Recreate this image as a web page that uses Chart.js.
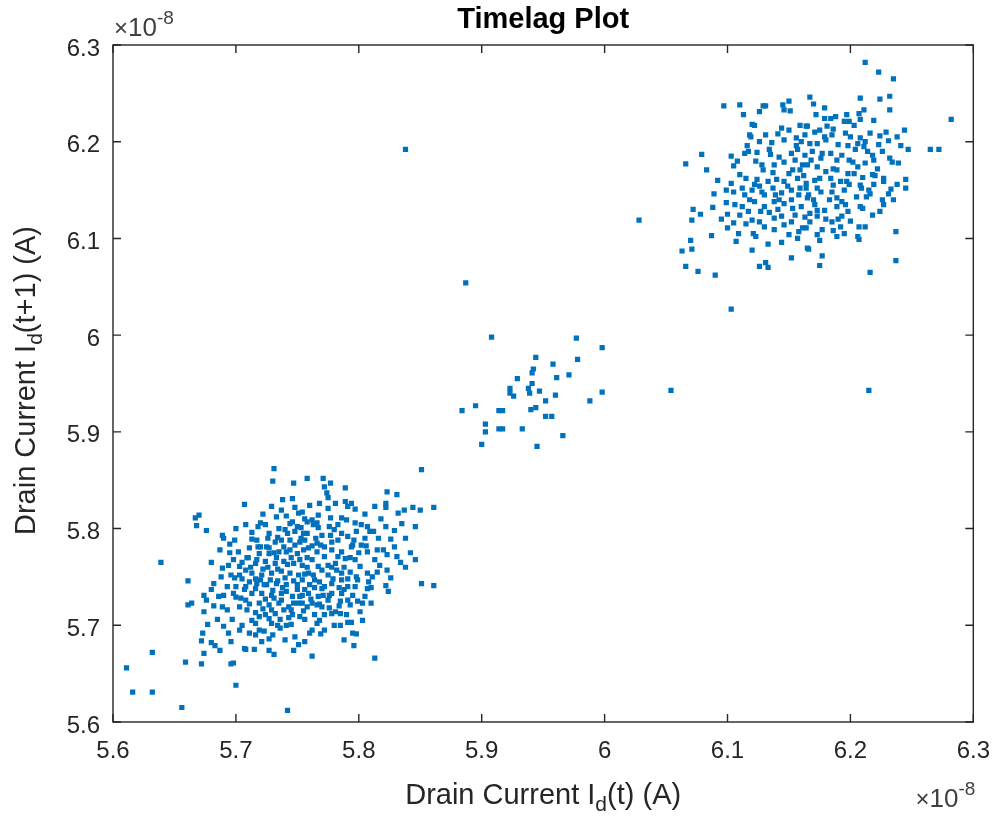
<!DOCTYPE html>
<html>
<head>
<meta charset="utf-8">
<script src="https://cdn.jsdelivr.net/npm/chart.js@4.4.0/dist/chart.umd.min.js"></script>
<style>
html,body{margin:0;padding:0;background:#ffffff;}
#wrap{width:1005px;height:818px;position:relative;}
</style>
</head>
<body>
<div id="wrap"><canvas id="c" width="1005" height="818"></canvas></div>
<script>
// Values in units of 1e-8 A : [Id(t), Id(t+1)]
const chartTitle = 'Timelag Plot';
const xTicks = [5.6, 5.7, 5.8, 5.9, 6.0, 6.1, 6.2, 6.3];
const yTicks = [5.6, 5.7, 5.8, 5.9, 6.0, 6.1, 6.2, 6.3];

const lowerCluster = [
[5.731,5.862],[5.730,5.849],[5.747,5.847],[5.746,5.831],[5.707,5.825],[5.729,5.823],[5.737,5.819],[5.670,5.814],
[5.667,5.811],[5.668,5.803],[5.676,5.798],[5.708,5.804],[5.718,5.802],[5.713,5.796],[5.724,5.804],[5.689,5.793],
[5.690,5.790],[5.699,5.788],[5.687,5.778],[5.695,5.775],[5.711,5.780],[5.709,5.770],[5.639,5.765],[5.680,5.765],
[5.689,5.759],[5.698,5.768],[5.703,5.761],[5.661,5.746],[5.682,5.743],[5.680,5.737],[5.674,5.731],[5.676,5.726],
[5.661,5.721],[5.664,5.723],[5.674,5.714],[5.689,5.719],[5.693,5.716],[5.700,5.740],[5.700,5.729],[5.708,5.740],
[5.703,5.719],[5.685,5.706],[5.677,5.701],[5.673,5.692],[5.672,5.684],[5.680,5.682],[5.683,5.679],[5.687,5.674],
[5.674,5.671],[5.659,5.662],[5.672,5.660],[5.696,5.660],[5.698,5.661],[5.690,5.699],[5.694,5.692],[5.696,5.683],
[5.703,5.695],[5.707,5.676],[5.708,5.675],[5.715,5.675],[5.711,5.692],[5.719,5.695],[5.721,5.683],[5.727,5.674],
[5.731,5.670],[5.723,5.694],[5.729,5.702],[5.734,5.700],[5.741,5.700],[5.747,5.674],[5.748,5.688],[5.700,5.638],
[5.656,5.615],[5.742,5.612],[5.719,5.709],[5.713,5.705],[5.724,5.711],[5.851,5.861],[5.758,5.852],[5.771,5.852],
[5.777,5.847],[5.772,5.843],[5.774,5.837],[5.775,5.832],[5.789,5.842],[5.823,5.838],[5.831,5.835],[5.789,5.828],
[5.794,5.826],[5.791,5.823],[5.813,5.823],[5.822,5.826],[5.822,5.822],[5.832,5.816],[5.837,5.819],[5.844,5.822],
[5.850,5.819],[5.861,5.822],[5.760,5.824],[5.775,5.821],[5.754,5.817],[5.846,5.802],[5.822,5.802],[5.829,5.798],
[5.826,5.789],[5.807,5.802],[5.802,5.804],[5.809,5.797],[5.820,5.778],[5.823,5.773],[5.842,5.775],[5.846,5.768],
[5.834,5.765],[5.826,5.749],[5.822,5.741],[5.824,5.735],[5.851,5.743],[5.861,5.741],[5.810,5.739],[5.810,5.723],
[5.803,5.723],[5.801,5.714],[5.803,5.705],[5.791,5.703],[5.794,5.703],[5.795,5.692],[5.798,5.691],[5.796,5.679],
[5.813,5.666],[5.762,5.668],[5.772,5.695],[5.766,5.702],[5.760,5.692],[5.756,5.683],[5.756,5.706],[5.764,5.711],
[5.793,5.721],[5.785,5.712],[5.781,5.714],[5.778,5.712],[5.772,5.711],[5.786,5.733],[5.791,5.740],[5.795,5.731],
[5.805,5.730],[5.807,5.738],[5.811,5.750],[5.807,5.754],[5.798,5.750],[5.786,5.754],[5.786,5.747],[5.778,5.743],
[5.772,5.740],[5.813,5.768],[5.817,5.762],[5.807,5.776],[5.802,5.783],[5.794,5.781],[5.797,5.768],[5.801,5.761],
[5.789,5.769],[5.783,5.771],[5.778,5.778],[5.783,5.788],[5.791,5.792],[5.798,5.797],[5.786,5.811],[5.790,5.809],
[5.777,5.811],[5.767,5.814],[5.762,5.809],[5.758,5.807],[5.763,5.804],[5.770,5.793],[5.766,5.785],[5.756,5.788],
[5.755,5.778],[5.762,5.768],[5.772,5.771],[5.767,5.761],[5.759,5.754],[5.754,5.747],[5.764,5.747],[5.759,5.733],
[5.767,5.730],[5.775,5.726],[5.754,5.723],[5.762,5.723],[5.770,5.719],[5.778,5.786],[5.780,5.799],[5.805,5.790],
[5.733,5.812],[5.746,5.807],[5.751,5.816],[5.740,5.799],[5.748,5.797],[5.727,5.795],[5.732,5.786],[5.744,5.788],
[5.752,5.786],[5.719,5.774],[5.727,5.774],[5.735,5.776],[5.741,5.776],[5.750,5.774],[5.716,5.764],[5.724,5.766],
[5.732,5.764],[5.739,5.766],[5.747,5.764],[5.754,5.762],[5.713,5.754],[5.721,5.752],[5.729,5.754],[5.737,5.756],
[5.744,5.754],[5.751,5.752],[5.717,5.743],[5.725,5.742],[5.733,5.743],[5.741,5.742],[5.750,5.742],[5.713,5.733],
[5.721,5.733],[5.729,5.731],[5.737,5.733],[5.746,5.730],[5.754,5.731],[5.719,5.723],[5.727,5.721],[5.735,5.723],
[5.743,5.719],[5.751,5.723],[5.732,5.712],[5.746,5.711],[5.752,5.709],[5.708,5.726],[5.709,5.716],
[5.748,5.783],[5.753,5.801],[5.750,5.737],[5.743,5.708],[5.736,5.697],[5.740,5.685],[5.759,5.780],[5.769,5.783],
[5.775,5.762],[5.782,5.757],[5.788,5.737],[5.766,5.721],[5.780,5.700],[5.788,5.685],[5.751,5.680],[5.739,5.716],
[5.729,5.716],[5.723,5.742],[5.731,5.728],[5.717,5.788],[5.725,5.781],[5.737,5.788],[5.720,5.806],[5.741,5.813],
[5.755,5.795],[5.767,5.801],[5.777,5.793],[5.783,5.804],[5.795,5.783],[5.800,5.775],[5.791,5.726],[5.799,5.747],
[5.756,5.737],[5.764,5.739],[5.771,5.731],[5.747,5.723],[5.703,5.752],[5.696,5.752],[5.707,5.737],[5.690,5.731],
[5.611,5.656],[5.632,5.672],[5.616,5.631],[5.632,5.631],
[5.705,5.748],[5.712,5.760],[5.716,5.748],[5.722,5.758],[5.728,5.747],[5.734,5.758],[5.740,5.749],[5.745,5.770],
[5.752,5.768],[5.758,5.760],[5.763,5.752],[5.768,5.745],[5.775,5.752],[5.781,5.764],[5.788,5.760],[5.793,5.755],
[5.797,5.740],[5.785,5.725],[5.778,5.733],[5.770,5.738],[5.760,5.742],[5.747,5.746],[5.738,5.739],[5.730,5.736],
[5.724,5.727],[5.716,5.738],[5.711,5.745],[5.727,5.780],[5.734,5.791],[5.742,5.795],[5.750,5.802],[5.758,5.795],
[5.765,5.790],[5.772,5.781],[5.778,5.760],[5.786,5.776],[5.793,5.770],[5.761,5.727],[5.755,5.715],[5.745,5.701],
[5.730,5.690],[5.716,5.702],[5.722,5.717],[5.737,5.726],[5.758,5.770],[5.766,5.776],[5.744,5.778],[5.733,5.770],
[5.720,5.781],[5.713,5.789],
[5.710,5.770],[5.718,5.781],[5.726,5.790],[5.735,5.800],[5.744,5.805],[5.756,5.810],[5.766,5.806],[5.776,5.802],
[5.786,5.795],[5.796,5.788],[5.806,5.782],[5.815,5.778],[5.829,5.781],[5.838,5.790],[5.835,5.805],[5.818,5.810],
[5.805,5.815],[5.797,5.820],[5.781,5.826],[5.768,5.826],[5.748,5.822],[5.738,5.830],[5.722,5.815],[5.700,5.800],
[5.695,5.784],[5.702,5.776],[5.705,5.765],[5.694,5.762],[5.688,5.750],[5.693,5.740],[5.698,5.733],[5.704,5.728],
[5.711,5.722],[5.716,5.713],[5.727,5.707],[5.736,5.706],[5.745,5.716],[5.758,5.719],[5.768,5.705],[5.776,5.718],
[5.784,5.720],[5.790,5.711],[5.799,5.725],[5.808,5.745],[5.815,5.755],[5.823,5.757],[5.831,5.771],[5.838,5.760],
[5.816,5.790],[5.812,5.797],[5.797,5.806],[5.753,5.790],[5.762,5.782],[5.739,5.781],[5.731,5.775],[5.717,5.768],
[5.726,5.760],[5.742,5.763],[5.756,5.753],[5.770,5.757],[5.779,5.748],[5.791,5.748],[5.784,5.739],[5.776,5.731],
[5.768,5.722],[5.752,5.730],[5.741,5.735],[5.734,5.746],[5.720,5.747],[5.708,5.757],[5.699,5.749],[5.686,5.730],
[5.682,5.720],[5.697,5.706],[5.705,5.700],[5.716,5.690],[5.727,5.686],[5.762,5.695],[5.785,5.700],[5.769,5.691]
];

const middleCluster = [
[5.838,6.192],[5.887,6.054],[5.908,5.998],[5.977,5.997],[5.998,5.987],[5.944,5.977],[5.978,5.975],[5.958,5.970],
[5.942,5.965],[5.941,5.961],[5.961,5.956],[5.971,5.959],[5.929,5.955],[5.941,5.950],[5.923,5.945],[5.938,5.945],
[5.923,5.940],[5.926,5.937],[5.939,5.940],[5.947,5.942],[5.960,5.938],[5.998,5.941],[5.988,5.932],[5.952,5.932],
[5.895,5.927],[5.884,5.922],[5.914,5.922],[5.917,5.922],[5.940,5.923],[5.944,5.925],[5.952,5.916],[5.957,5.916],
[5.903,5.908],[5.903,5.900],[5.914,5.903],[5.917,5.903],[5.933,5.903],[5.966,5.896],[5.900,5.887],[5.945,5.885],
[6.054,5.943],[6.215,5.943],[6.028,6.119]
];

const upperCluster = [
[6.066,6.177],[6.072,6.130],[6.071,6.119],[6.070,6.098],[6.071,6.089],[6.063,6.087],[6.066,6.071],
[6.097,6.237],[6.110,6.238],[6.129,6.237],[6.131,6.237],[6.145,6.238],[6.150,6.242],[6.146,6.233],[6.151,6.232],
[6.113,6.228],[6.126,6.231],[6.167,6.246],[6.120,6.218],[6.122,6.217],[6.118,6.207],[6.119,6.205],[6.131,6.207],
[6.141,6.208],[6.144,6.214],[6.150,6.212],[6.159,6.217],[6.164,6.216],[6.156,6.204],[6.163,6.207],[6.079,6.187],
[6.083,6.171],[6.103,6.185],[6.105,6.175],[6.114,6.188],[6.117,6.190],[6.124,6.189],[6.134,6.192],[6.135,6.187],
[6.142,6.184],[6.152,6.188],[6.157,6.192],[6.163,6.186],[6.128,6.176],[6.129,6.171],[6.138,6.176],[6.146,6.179],
[6.153,6.171],[6.161,6.176],[6.110,6.166],[6.115,6.162],[6.124,6.161],[6.133,6.159],[6.140,6.161],[6.146,6.159],
[6.157,6.162],[6.164,6.157],[6.103,6.157],[6.099,6.150],[6.105,6.148],[6.112,6.152],[6.120,6.150],[6.128,6.148],
[6.137,6.152],[6.144,6.147],[6.152,6.150],[6.159,6.152],[6.166,6.145],[6.089,6.146],[6.099,6.137],[6.088,6.132],
[6.078,6.125],[6.100,6.125],[6.112,6.133],[6.117,6.128],[6.122,6.138],[6.130,6.133],[6.138,6.138],[6.146,6.136],
[6.153,6.131],[6.160,6.133],[6.120,6.119],[6.126,6.117],[6.130,6.112],[6.138,6.121],[6.144,6.123],[6.152,6.117],
[6.161,6.111],[6.105,6.116],[6.100,6.111],[6.087,6.103],[6.107,6.097],[6.120,6.088],[6.150,6.104],[6.157,6.100],
[6.165,6.090],[6.152,6.080],[6.131,6.075],[6.126,6.071],[6.133,6.070],[6.076,6.066],[6.090,6.062],[6.103,6.027],
[6.212,6.282],[6.223,6.272],[6.235,6.265],[6.208,6.245],[6.224,6.244],[6.232,6.247],[6.170,6.239],[6.179,6.235],
[6.211,6.233],[6.207,6.229],[6.232,6.233],[6.172,6.228],[6.179,6.224],[6.184,6.224],[6.188,6.226],[6.197,6.228],
[6.195,6.221],[6.199,6.221],[6.208,6.223],[6.282,6.223],[6.165,6.216],[6.175,6.212],[6.181,6.216],[6.185,6.207],
[6.179,6.205],[6.196,6.209],[6.216,6.209],[6.224,6.206],[6.229,6.210],[6.238,6.205],[6.244,6.212],[6.208,6.204],
[6.167,6.198],[6.173,6.198],[6.198,6.196],[6.206,6.198],[6.204,6.192],[6.211,6.195],[6.214,6.190],[6.223,6.197],
[6.231,6.201],[6.241,6.196],[6.247,6.192],[6.265,6.192],[6.272,6.192],[6.169,6.190],[6.177,6.188],[6.184,6.188],
[6.189,6.181],[6.218,6.186],[6.212,6.178],[6.234,6.179],[6.239,6.178],[6.165,6.176],[6.173,6.174],[6.180,6.169],
[6.189,6.171],[6.198,6.167],[6.206,6.174],[6.203,6.167],[6.184,6.162],[6.192,6.159],[6.197,6.159],[6.218,6.166],
[6.220,6.165],[6.227,6.162],[6.227,6.159],[6.238,6.156],[6.245,6.161],[6.245,6.152],[6.164,6.152],[6.173,6.152],
[6.176,6.148],[6.208,6.155],[6.209,6.152],[6.219,6.156],[6.233,6.151],[6.231,6.146],[6.165,6.142],[6.183,6.140],
[6.189,6.142],[6.193,6.138],[6.196,6.135],[6.205,6.143],[6.213,6.143],[6.216,6.146],[6.226,6.140],[6.173,6.129],
[6.167,6.126],[6.189,6.133],[6.208,6.133],[6.210,6.131],[6.173,6.123],[6.185,6.117],[6.193,6.123],[6.177,6.109],
[6.164,6.111],[6.192,6.112],[6.195,6.105],[6.189,6.102],[6.207,6.112],[6.212,6.112],[6.206,6.102],[6.207,6.099],
[6.173,6.104],[6.175,6.098],[6.237,6.107],[6.166,6.089],[6.177,6.082],[6.175,6.072],[6.237,6.077],[6.216,6.065],
[6.168,6.181],[6.175,6.162],[6.155,6.181],[6.159,6.171],[6.137,6.168],[6.146,6.202],[6.170,6.140],[6.179,6.129],
[6.155,6.124],[6.167,6.117],[6.138,6.109],[6.146,6.114],[6.122,6.156],[6.130,6.145],[6.142,6.140],[6.134,6.127],
[6.118,6.140],[6.110,6.124],[6.123,6.102],[6.186,6.155],[6.195,6.150],[6.199,6.181],[6.190,6.197],[6.180,6.202],
[6.218,6.124],[6.227,6.135],[6.235,6.140],[6.219,6.181],[6.203,6.217],[6.219,6.222],
[6.116,6.196],[6.126,6.200],[6.136,6.199],[6.156,6.196],[6.171,6.210],[6.186,6.213],[6.200,6.205],[6.212,6.200],
[6.226,6.190],[6.232,6.183],[6.222,6.172],[6.210,6.163],[6.199,6.156],[6.185,6.148],[6.171,6.160],[6.158,6.145],
[6.149,6.154],[6.139,6.145],[6.126,6.154],[6.114,6.145],[6.106,6.135],[6.115,6.115],[6.127,6.128],[6.141,6.130],
[6.152,6.140],[6.163,6.122],[6.171,6.135],[6.180,6.120],[6.198,6.128],[6.200,6.118],[6.186,6.108],[6.158,6.107],
[6.144,6.096],[6.133,6.094],[6.121,6.105],[6.109,6.105],[6.095,6.120],[6.092,6.160],[6.108,6.180],[6.123,6.180],
[6.150,6.167],[6.162,6.165],[6.176,6.183],[6.193,6.186],[6.202,6.179],[6.186,6.172],[6.215,6.150],[6.224,6.128],
[6.190,6.120],[6.160,6.200]
];

const FONT = '"Liberation Sans", Arial, Helvetica, sans-serif';
const TXT = '#262626';

function toPoints(arr){ return arr.map(p => ({x: p[0], y: p[1]})); }
const allPoints = [].concat(toPoints(lowerCluster), toPoints(middleCluster), toPoints(upperCluster));

function drawRich(ctx, parts, x, y, align){
  let total = 0;
  parts.forEach(p => { ctx.font = (p.weight||'normal') + ' ' + p.size + 'px ' + FONT; p.w = ctx.measureText(p.t).width; total += p.w; });
  let cx = align === 'center' ? x - total/2 : (align === 'right' ? x - total : x);
  ctx.textAlign = 'left'; ctx.textBaseline = 'alphabetic';
  parts.forEach(p => { ctx.font = (p.weight||'normal') + ' ' + p.size + 'px ' + FONT; ctx.fillText(p.t, cx, y + (p.dy||0)); cx += p.w; });
}

const matlabAxes = {
  id: 'matlabAxes',
  afterDatasetsDraw(chart){
    const ctx = chart.ctx, a = chart.chartArea, xs = chart.scales.x, ys = chart.scales.y;
    ctx.save();
    ctx.strokeStyle = TXT; ctx.lineWidth = 1.4;
    ctx.strokeRect(a.left, a.top, a.right - a.left, a.bottom - a.top);
    const tl = 8;
    ctx.beginPath();
    xTicks.forEach(v => { const px = xs.getPixelForValue(v);
      ctx.moveTo(px, a.bottom); ctx.lineTo(px, a.bottom - tl);
      ctx.moveTo(px, a.top); ctx.lineTo(px, a.top + tl); });
    yTicks.forEach(v => { const py = ys.getPixelForValue(v);
      ctx.moveTo(a.left, py); ctx.lineTo(a.left + tl, py);
      ctx.moveTo(a.right, py); ctx.lineTo(a.right - tl, py); });
    ctx.stroke();

    const cxm = (a.left + a.right) / 2, cym = (a.top + a.bottom) / 2;
    ctx.fillStyle = '#000000';
    drawRich(ctx, [{t: chartTitle, size: 29, weight: 'bold'}], cxm, 28, 'center');
    ctx.fillStyle = TXT;
    drawRich(ctx, [{t:'Drain Current I', size:29},{t:'d', size:21, dy:7},{t:'(t) (A)', size:29}], cxm, 804, 'center');
    ctx.save();
    ctx.translate(35, cym - 3);
    ctx.rotate(-Math.PI/2);
    drawRich(ctx, [{t:'Drain Current I', size:29},{t:'d', size:21, dy:7},{t:'(t+1) (A)', size:29}], 0, 0, 'center');
    ctx.restore();
    ctx.fillStyle = '#404040';
    drawRich(ctx, [{t:'\u00D7', size:24},{t:'10', size:26},{t:'-8', size:19, dy:-12}], a.left + 1, 36, 'left');
    drawRich(ctx, [{t:'\u00D7', size:24},{t:'10', size:26},{t:'-8', size:19, dy:-12}], a.right + 2, 807, 'right');
    ctx.restore();
  }
};

const fmt = v => String(Number(Number(v).toFixed(1)));

new Chart(document.getElementById('c'), {
  type: 'scatter',
  data: { datasets: [{
    data: allPoints,
    backgroundColor: '#0072BD',
    borderColor: '#0072BD',
    borderWidth: 0,
    pointRadius: 3.7,
    pointStyle: 'rect'
  }]},
  options: {
    responsive: false,
    animation: false,
    devicePixelRatio: 1,
    layout: { padding: { top: 45, right: 25, left: 0, bottom: 0 } },
    plugins: { legend: { display: false }, tooltip: { enabled: false }, title: { display: false } },
    scales: {
      x: {
        type: 'linear', min: 5.6, max: 6.3,
        grid: { display: false, drawTicks: false },
        border: { display: false },
        afterBuildTicks: s => { s.ticks = xTicks.map(v => ({ value: v })); },
        afterFit: s => { s.height = 96; },
        ticks: { autoSkip: false, maxRotation: 0, padding: 15, color: TXT, font: { family: FONT, size: 24 }, callback: fmt }
      },
      y: {
        type: 'linear', min: 5.6, max: 6.3,
        grid: { display: false, drawTicks: false },
        border: { display: false },
        afterBuildTicks: s => { s.ticks = yTicks.map(v => ({ value: v })); },
        afterFit: s => { s.width = 113; },
        ticks: { autoSkip: false, padding: 13, labelOffset: 4, color: TXT, font: { family: FONT, size: 24 }, callback: fmt }
      }
    }
  },
  plugins: [matlabAxes]
});
</script>
</body>
</html>
